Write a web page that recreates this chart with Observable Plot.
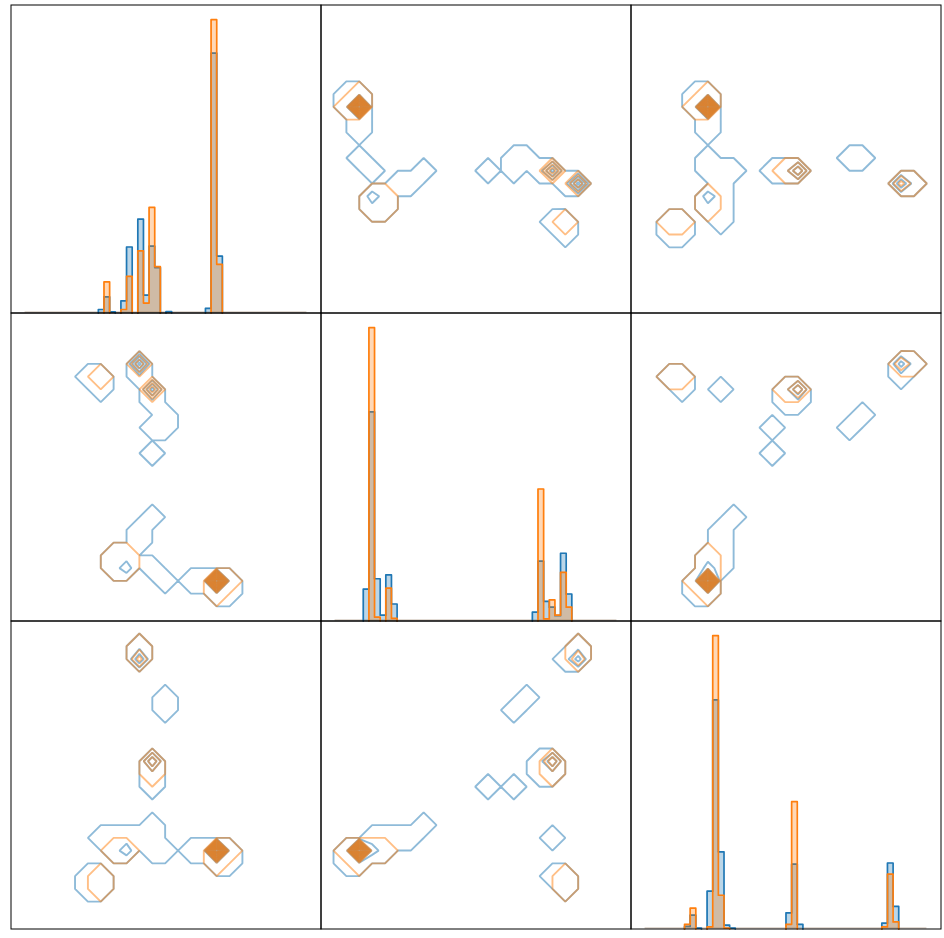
<!DOCTYPE html>
<html>
<head>
<meta charset="utf-8">
<script src="https://cdn.jsdelivr.net/npm/d3@7"></script>
<script src="https://cdn.jsdelivr.net/npm/@observablehq/plot@0.6"></script>
<style>
  html, body { margin: 0; padding: 0; background: #ffffff; }
  #grid { position: relative; width: 944px; height: 938px; }
  .cell { position: absolute; }
  .cell svg { display: block; overflow: visible; }
</style>
</head>
<body>
<div id="grid"></div>
<script>
// ---- series (hue levels) ----
const seriesKeys = ["blue", "orange"];
const seriesColors = ["#1f77b4", "#ff7f0e"];

// ---- diagonal histograms: [bin index (0..49), count] ----
const binCount = 50;
const histVar0Blue   = [[13,12],[14,55],[15,4],[17,41],[18,225],[20,320],[21,61],[22,228],[23,155],[25,5],[32,16],[33,886],[34,194]];
const histVar0Orange = [[14,106],[17,12],[18,125],[20,212],[21,34],[22,360],[23,158],[33,1000],[34,166]];
const histVar1Blue   = [[5,109],[6,713],[7,144],[8,20],[9,157],[10,58],[35,30],[36,204],[37,67],[38,47],[39,18],[40,231],[41,92]];
const histVar1Orange = [[6,1000],[7,13],[9,112],[10,9],[36,450],[37,7],[38,72],[39,20],[40,166],[41,47]];
const histVar2Blue   = [[7,9],[8,47],[9,3],[11,129],[12,781],[13,263],[14,13],[15,3],[25,55],[26,221],[27,16],[42,20],[43,225],[44,77]];
const histVar2Orange = [[7,16],[8,71],[11,7],[12,1000],[13,115],[14,3],[25,16],[26,434],[42,7],[43,187],[44,24]];

// ---- off-diagonal 2D counts on a 23x23 grid: [index of lower var, index of higher var, count] ----
const gridSize = 23;
const pair01Blue = [[16,1,.5],[16,2,.5],[15,1,.5],[15,2,12],[14,2,.5],[13,2,.5],[11,2,.5],[10,3,.5],[8,3,1.6],[8,4,.5],[7,3,.5],[7,4,.5],
  [9,5,.5],[9,6,.5],[10,7,.5],[10,12,.5],[11,14,.5],[11,15,.5],[10,14,.5],[10,16,.5],[10,17,3.5],[9,18,.5],[9,19,4.5],[6,17,.5],[6,18,.8],[5,18,.5]];
const pair01Orange = [[16,2,.5],[15,1,.5],[15,2,12],[8,3,.5],[8,4,.5],[7,3,.5],[7,4,.5],[10,17,4],[9,19,3],[6,18,.5]];
const pair02Blue = [[16,4,.5],[16,5,.5],[15,4,.5],[15,5,12],[14,5,.5],[13,5,.5],[11,5,.5],[10,5,.5],[10,6,.5],[10,7,.5],[9,6,.5],[8,6,.5],
  [7,6,.5],[6,6,.5],[8,5,1.6],[7,5,.5],[6,2,.5],[6,3,.5],[5,2,.5],[5,3,.5],[10,10,.5],[10,11,.5],[10,12,3],[11,16,.5],[11,17,.5],[9,20,3],[9,21,.5]];
const pair02Orange = [[16,5,.5],[15,4,.5],[15,5,12],[8,5,.5],[7,5,.5],[6,2,.5],[6,3,.5],[10,11,.5],[10,12,3],[9,20,2.5],[9,21,.5]];
const pair12Blue = [[18,2,.5],[18,3,.5],[17,3,.5],[17,6,.5],[17,11,.5],[17,12,3],[16,11,.5],[16,12,.5],[19,20,2.5],[19,21,.5],[18,20,.5],
  [14,10,.5],[12,10,.5],[14,16,.5],[15,17,.5],[7,7,.5],[6,6,.5],[5,6,.5],[4,6,.5],[3,6,.5],[4,5,.5],[3,5,1.5],[2,5,12],[2,4,.5],[1,4,.5],[1,5,.5]];
const pair12Orange = [[18,2,.5],[18,3,.5],[17,11,.5],[17,12,3],[19,20,2],[19,21,.5],[4,5,.5],[3,5,.5],[2,5,12],[2,4,.5],[1,5,.5]];

const contourThresholds = [0.001, 1, 2, 3, 4, 5, 6, 7, 8, 9, 10, 11];

const histData = [[histVar0Blue, histVar0Orange], [histVar1Blue, histVar1Orange], [histVar2Blue, histVar2Orange]];
const pairData = {"0-1": [pair01Blue, pair01Orange], "0-2": [pair02Blue, pair02Orange], "1-2": [pair12Blue, pair12Orange]};

function countsOf(sparse) {
  const counts = new Array(binCount).fill(0);
  for (const [k, c] of sparse) counts[k] = c;
  return counts;
}

function stepSeries(sparse) {
  const counts = countsOf(sparse);
  const pts = counts.map((c, k) => ({edge: k, count: c}));
  pts.push({edge: binCount, count: counts[binCount - 1]});
  return pts;
}

// outline of each run of non-empty bins (the step line without the zero baseline)
function outlineRuns(sparse) {
  const counts = countsOf(sparse);
  const pts = [];
  let run = 0, k = 0;
  while (k < binCount) {
    if (counts[k] > 0) {
      const s = k;
      pts.push({edge: s, count: 0, run});
      while (k < binCount && counts[k] > 0) {
        pts.push({edge: k, count: counts[k], run});
        pts.push({edge: k + 1, count: counts[k], run});
        k++;
      }
      pts.push({edge: k, count: 0, run});
      run++;
    } else k++;
  }
  return pts;
}

function buildGrid(cells, transpose) {
  const n = gridSize;
  const g = new Array(n * n).fill(0);
  for (const [a, b, v] of cells) {
    const xi = transpose ? b : a;
    const yi = transpose ? a : b;
    g[yi * n + xi] = v;
  }
  // join diagonal neighbours (saddle squares) as a centre-averaging contour would
  const t = contourThresholds[0], eps = t * 1.01;
  let changed = true, guard = 0;
  while (changed && guard++ < 20) {
    changed = false;
    for (let j = 0; j < n - 1; j++) for (let i = 0; i < n - 1; i++) {
      const A = g[j*n+i] >= t, B = g[j*n+i+1] >= t, C = g[(j+1)*n+i] >= t, D = g[(j+1)*n+i+1] >= t;
      if (A && D && !B && !C) { g[j*n+i+1] = eps; changed = true; }
      else if (B && C && !A && !D) { g[j*n+i] = eps; changed = true; }
    }
  }
  return g;
}

const W = 311, H = 309;
const common = {width: W, height: H, marginLeft: 0.5, marginRight: 0.5, marginTop: 0.5, marginBottom: 0.5};
const container = document.getElementById("grid");

for (let r = 0; r < 3; r++) {
  for (let c = 0; c < 3; c++) {
    let chart;
    if (r === c) {
      const marks = [];
      marks.push(Plot.ruleY([0], {x1: 0, x2: binCount, stroke: "#c4b6a8", strokeWidth: 1.2, dy: -1}));
      histData[r].forEach((sparse, s) => {
        marks.push(Plot.areaY(stepSeries(sparse), {x: "edge", y: "count", curve: "step-after", fill: seriesColors[s], fillOpacity: 0.3}));
        marks.push(Plot.line(outlineRuns(sparse), {x: "edge", y: "count", z: "run", stroke: seriesColors[s], strokeWidth: 1.7}));
      });
      marks.push(Plot.frame({stroke: "black", strokeWidth: 1}));
      chart = Plot.plot({
        ...common,
        x: {domain: [-2.5, binCount + 2.5], axis: null},
        y: {domain: [0, 1050], axis: null},
        marks
      });
    } else {
      const lo = Math.min(r, c), hi = Math.max(r, c);
      const transpose = c > r; // x is var c; cells stored as [lo, hi]
      const marks = [];
      pairData[lo + "-" + hi].forEach((cells, s) => {
        const grid = buildGrid(cells, transpose);
        marks.push(Plot.contour(grid, {
          width: gridSize, height: gridSize,
          x1: -0.5, x2: gridSize - 0.5, y1: -0.5, y2: gridSize - 0.5,
          thresholds: contourThresholds,
          stroke: seriesColors[s], strokeOpacity: 0.5, strokeWidth: 1.9, fill: "none"
        }));
      });
      marks.push(Plot.frame({stroke: "black", strokeWidth: 1}));
      chart = Plot.plot({
        ...common,
        x: {domain: [-0.97, 23.1], axis: null},
        y: {domain: [-1.14, 22.98], axis: null},
        marks
      });
    }
    const div = document.createElement("div");
    div.className = "cell";
    div.style.left = (10 + 310 * c) + "px";
    div.style.top = (4 + 308 * r) + "px";
    div.appendChild(chart);
    container.appendChild(div);
  }
}
</script>
</body>
</html>
